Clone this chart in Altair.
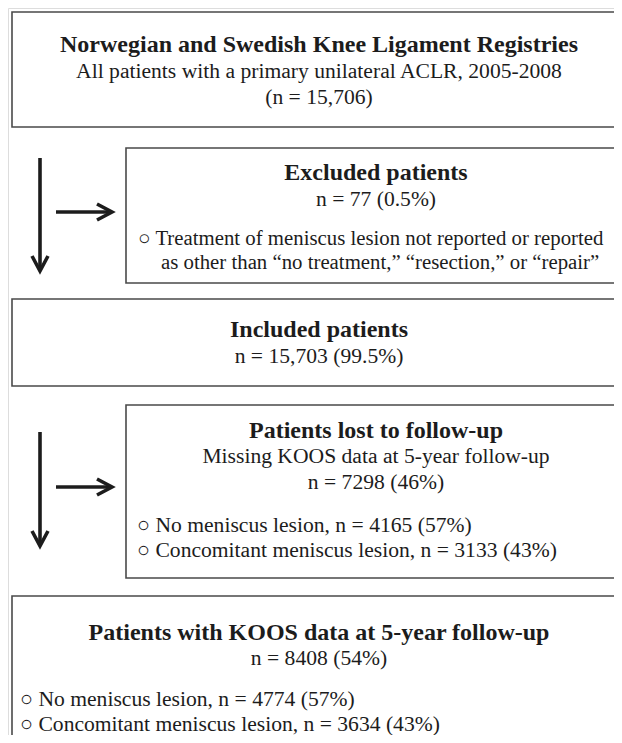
import altair as alt
import pandas as pd

# ---- content (text of the flowchart) ----
box1_lines = ["Norwegian and Swedish Knee Ligament Registries",
              "All patients with a primary unilateral ACLR, 2005-2008",
              "(n = 15,706)"]
box2_lines = ["Excluded patients", "n = 77 (0.5%)",
              "○ Treatment of meniscus lesion not reported or reported",
              "as other than “no treatment,” “resection,” or “repair”"]
box3_lines = ["Included patients", "n = 15,703 (99.5%)"]
box4_lines = ["Patients lost to follow-up",
              "Missing KOOS data at 5-year follow-up",
              "n = 7298 (46%)",
              "○ No meniscus lesion, n = 4165 (57%)",
              "○ Concomitant meniscus lesion, n = 3133 (43%)"]
box5_lines = ["Patients with KOOS data at 5-year follow-up",
              "n = 8408 (54%)",
              "○ No meniscus lesion, n = 4774 (57%)",
              "○ Concomitant meniscus lesion, n = 3634 (43%)"]

# ---- layout (page pixel coordinates) ----
box_x = [12, 126, 12, 126, 12]
box_x2 = [660, 660, 660, 660, 660]
box_y = [12, 148, 299, 405, 596]
box_y2 = [127, 283, 386, 578, 780]

# style: b = bold centered, c = centered, l = left, s = left (slightly smaller)
text_rows = []
def add(lines, xs, ys, styles):
    for t, x, y, s in zip(lines, xs, ys, styles):
        text_rows.append({"t": t, "x": x, "y": y, "s": s})

add(box1_lines, [319, 319, 319], [45, 72, 98], ["b", "c", "c"])
add(box2_lines, [376, 376, 138, 161], [173, 200, 239, 263], ["b", "c", "s", "s"])
add(box3_lines, [319, 319], [330, 357], ["b", "c"])
add(box4_lines, [376, 376, 376, 137, 137], [431, 457, 483, 526, 551], ["b", "c", "c", "l", "l"])
add(box5_lines, [319, 319, 20, 20], [633, 659, 700, 725], ["b", "c", "l", "l"])

texts = pd.DataFrame(text_rows)
boxes = pd.DataFrame({"x": box_x, "x2": box_x2, "y": box_y, "y2": box_y2})

# arrows
shafts = pd.DataFrame({
    "x": [40, 56, 40, 56], "x2": [40, 111, 40, 111],
    "y": [158, 212, 432, 487], "y2": [271, 212, 546, 487]})
heads = pd.DataFrame({
    "g": ["d1"] * 3 + ["r1"] * 3 + ["d2"] * 3 + ["r2"] * 3,
    "o": [0, 1, 2] * 4,
    "x": [32, 40, 48, 97, 112, 97, 32, 40, 48, 97, 112, 97],
    "y": [256, 271, 256, 204, 212, 220, 531, 546, 531, 479, 487, 495]})

W, H = 606, 727
xs = alt.Scale(domain=[8, 8 + W], nice=False, zero=False)
ys = alt.Scale(domain=[8, 8 + H], nice=False, zero=False, reverse=True)
X = lambda f: alt.X(f, type="quantitative", scale=xs, axis=None)
Y = lambda f: alt.Y(f, type="quantitative", scale=ys, axis=None)

FONT = "Liberation Serif"
INK = "#1c1c1c"

box_layer = alt.Chart(boxes).mark_rect(
    fill=None, stroke="#4a4a4a", strokeWidth=1.6, clip=True
).encode(x=X("x"), x2="x2", y=Y("y"), y2="y2")

shaft_layer = alt.Chart(shafts).mark_rule(
    stroke=INK, strokeWidth=3.6, strokeCap="butt"
).encode(x=X("x"), x2="x2", y=Y("y"), y2="y2")

head_layer = alt.Chart(heads).mark_line(
    stroke=INK, strokeWidth=3.6, strokeJoin="miter", strokeCap="butt"
).encode(x=X("x"), y=Y("y"), detail="g:N", order="o:Q")

bold_layer = alt.Chart(texts).transform_filter("datum.s == 'b'").mark_text(
    font=FONT, fontSize=24, fontWeight="bold", align="center",
    baseline="middle", color=INK
).encode(x=X("x"), y=Y("y"), text="t:N")

center_layer = alt.Chart(texts).transform_filter("datum.s == 'c'").mark_text(
    font=FONT, fontSize=21.6, align="center", baseline="middle", color=INK
).encode(x=X("x"), y=Y("y"), text="t:N")

left_layer = alt.Chart(texts).transform_filter("datum.s == 'l'").mark_text(
    font=FONT, fontSize=21.6, align="left", baseline="middle", color=INK
).encode(x=X("x"), y=Y("y"), text="t:N")

left_small_layer = alt.Chart(texts).transform_filter("datum.s == 's'").mark_text(
    font=FONT, fontSize=20.8, align="left", baseline="middle", color=INK
).encode(x=X("x"), y=Y("y"), text="t:N")

chart = alt.layer(
    box_layer, shaft_layer, head_layer, bold_layer, center_layer,
    left_layer, left_small_layer
).properties(
    width=W, height=H, autosize=alt.AutoSizeParams(type="none"), padding=0
).configure_view(stroke=None).configure(background="white")

chart.save("out.html", embed_options={"renderer": "svg", "actions": False})
